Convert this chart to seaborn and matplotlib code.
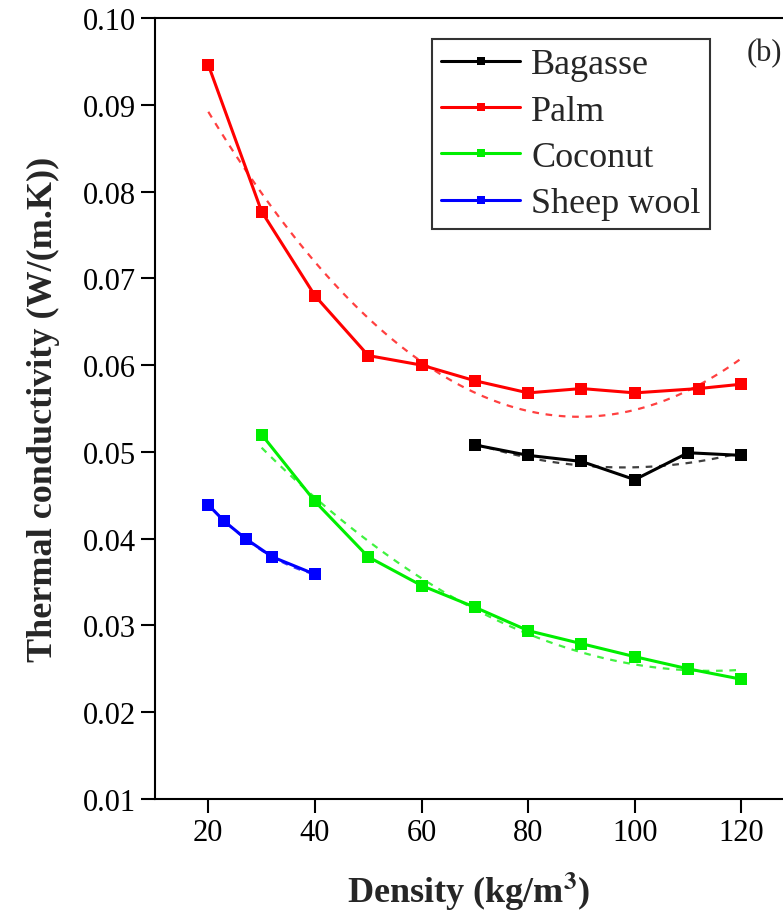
import matplotlib
matplotlib.use("Agg")
import matplotlib.pyplot as plt
import pandas as pd
import seaborn as sns

# values
bagasse_x = [70, 80, 90, 100, 110, 120]
bagasse_y = [0.0508, 0.0496, 0.0489, 0.0468, 0.0499, 0.0496]
palm_x = [20, 30, 40, 50, 60, 70, 80, 90, 100, 112, 120]
palm_y = [0.0946, 0.0777, 0.0680, 0.0611, 0.0600, 0.0582, 0.0568, 0.0573, 0.0568, 0.0573, 0.0578]
coconut_x = [30, 40, 50, 60, 70, 80, 90, 100, 110, 120]
coconut_y = [0.0520, 0.0443, 0.0379, 0.0346, 0.0321, 0.0294, 0.0279, 0.0264, 0.0250, 0.0238]
wool_x = [20, 23, 27, 32, 40]
wool_y = [0.0439, 0.0420, 0.0400, 0.0379, 0.0359]

names = ["Bagasse", "Palm", "Coconut", "Sheep wool"]
colors = ["#000000", "#ff0000", "#00ee00", "#0000ff"]
xticks = [20, 40, 60, 80, 100, 120]
yticks = [0.01, 0.02, 0.03, 0.04, 0.05, 0.06, 0.07, 0.08, 0.09, 0.10]

sns.set_style("white")
plt.rcParams['font.family'] = ['Liberation Serif', 'DejaVu Serif']
plt.rcParams['mathtext.fontset'] = 'stix'

fig = plt.figure(figsize=(7.83, 9.20), dpi=100)
ax = fig.add_axes([155/783, 1 - 800/920, 1 - 155/783, (800 - 19)/920])

series = [(bagasse_x, bagasse_y), (palm_x, palm_y), (coconut_x, coconut_y), (wool_x, wool_y)]
for (xs, ys), name, c in zip(series, names, colors):
    df = pd.DataFrame({"x": xs, "y": ys})
    # polynomial trend (dashed) behind the data line
    sns.regplot(data=df, x="x", y="y", order=2, ci=None, scatter=False, ax=ax,
                line_kws=dict(color=c, lw=1.6, ls=(0, (3, 3)), alpha=0.75))
    sns.lineplot(data=df, x="x", y="y", color=c, marker="s", markersize=8,
                 markeredgewidth=0, lw=2.2, label=name, ax=ax)

ax.set_xlim(10, 127.8)
ax.set_ylim(0.01, 0.10)
ax.set_xticks(xticks)
ax.set_yticks(yticks)
ax.set_yticklabels([f"{v:.2f}" for v in yticks])
ax.tick_params(direction="out", length=10, width=1.5, labelsize=22, pad=4,
               left=True, bottom=True, colors="black")
for s in ["left", "bottom", "top"]:
    ax.spines[s].set_color("black")
    ax.spines[s].set_linewidth(1.5)
ax.spines["right"].set_visible(False)

ax.set_xlabel("Density (kg/m$^\\mathbf{3}$)", fontsize=26, fontweight="bold", labelpad=16)
ax.set_ylabel("Thermal conductivity (W/(m.K))", fontsize=26, fontweight="bold", labelpad=16)

ax.text(0.97, 0.975, "(b)", transform=ax.transAxes, fontsize=22, ha="center", va="top")

leg = ax.legend(loc="upper left", bbox_to_anchor=((432 - 155)/628, (800 - 40)/781),
                fontsize=26, frameon=True, fancybox=False, handlelength=2.2,
                handletextpad=0.3, labelspacing=0.36, borderpad=0.25, borderaxespad=0,
                markerscale=0.8)
leg.get_frame().set_edgecolor("black")
leg.get_frame().set_linewidth(1.5)

fig.savefig("out.png", dpi=100)
